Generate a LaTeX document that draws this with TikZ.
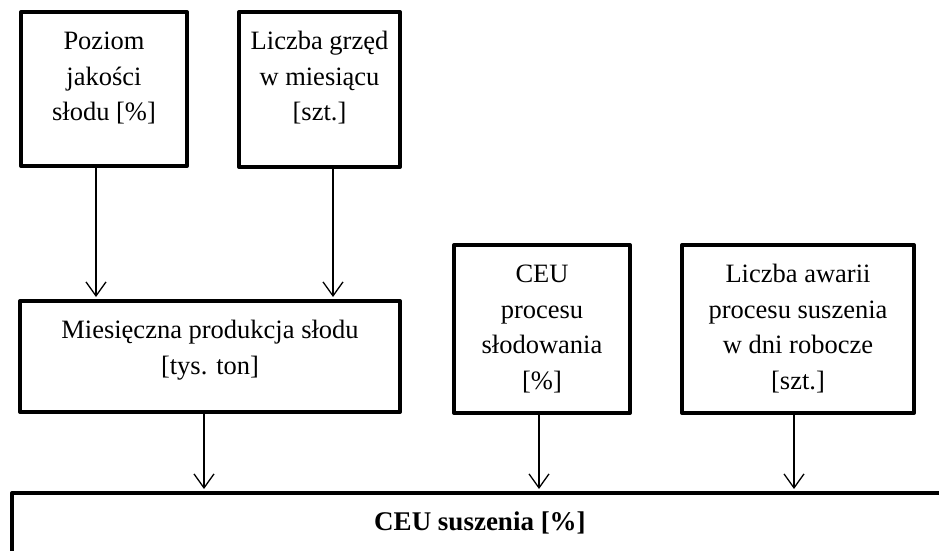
\documentclass[tikz,border=0pt]{standalone}
\usepackage{fontspec}
\setmainfont{Liberation Serif}
\usetikzlibrary{arrows.meta}
\newcommand{\topbox}[3]{\parbox[c][#2][t]{#1}{\centering\fontsize{26.5pt}{35.5pt}\selectfont\vspace*{13pt}\strut #3}}
\tikzset{
  bx/.style={draw, line width=4pt, line join=round, inner sep=0pt, anchor=north west, fill=white},
  arr/.style={line width=1.3pt, -{Straight Barb[length=14pt,width=20pt,line width=1.3pt]}, shorten >=2pt}
}
\begin{document}
\begin{tikzpicture}[x=1pt,y=-1pt]
\useasboundingbox (0,0) rectangle (939,551);
\fill[white] (0,0) rectangle (939,551);
\clip (0,0) rectangle (939,551);
\node[bx] (b1) at (19,10) {\topbox{166pt}{154pt}{Poziom\\jakości\\słodu [\%]}};
\node[bx] (b2) at (237,10) {\topbox{161pt}{155pt}{Liczba grzęd\\w miesiącu\\{[szt.]}}};
\node[bx] (b3) at (18,299) {\topbox{380pt}{111pt}{Miesięczna produkcja słodu\\{[tys. ton]}}};
\node[bx] (b4) at (452,243) {\topbox{176pt}{168pt}{CEU\\procesu\\słodowania\\{[\%]}}};
\node[bx] (b5) at (680,243) {\topbox{232pt}{168pt}{Liczba awarii\\procesu suszenia\\w dni robocze\\{[szt.]}}};
\node[bx] (ceu) at (10,491) {\topbox{936pt}{100pt}{\fontsize{27pt}{35.5pt}\selectfont\bfseries CEU suszenia [\%]}};
\draw[arr] ([xshift=-8pt]b1.south) -- ([xshift=-8pt]b1.south |- b3.north);
\draw[arr] ([xshift=13.5pt]b2.south) -- ([xshift=13.5pt]b2.south |- b3.north);
\draw[arr] ([xshift=-6pt]b3.south) -- ([xshift=-6pt]b3.south |- ceu.north);
\draw[arr] ([xshift=-3pt]b4.south) -- ([xshift=-3pt]b4.south |- ceu.north);
\draw[arr] ([xshift=-4pt]b5.south) -- ([xshift=-4pt]b5.south |- ceu.north);
\end{tikzpicture}
\end{document}
